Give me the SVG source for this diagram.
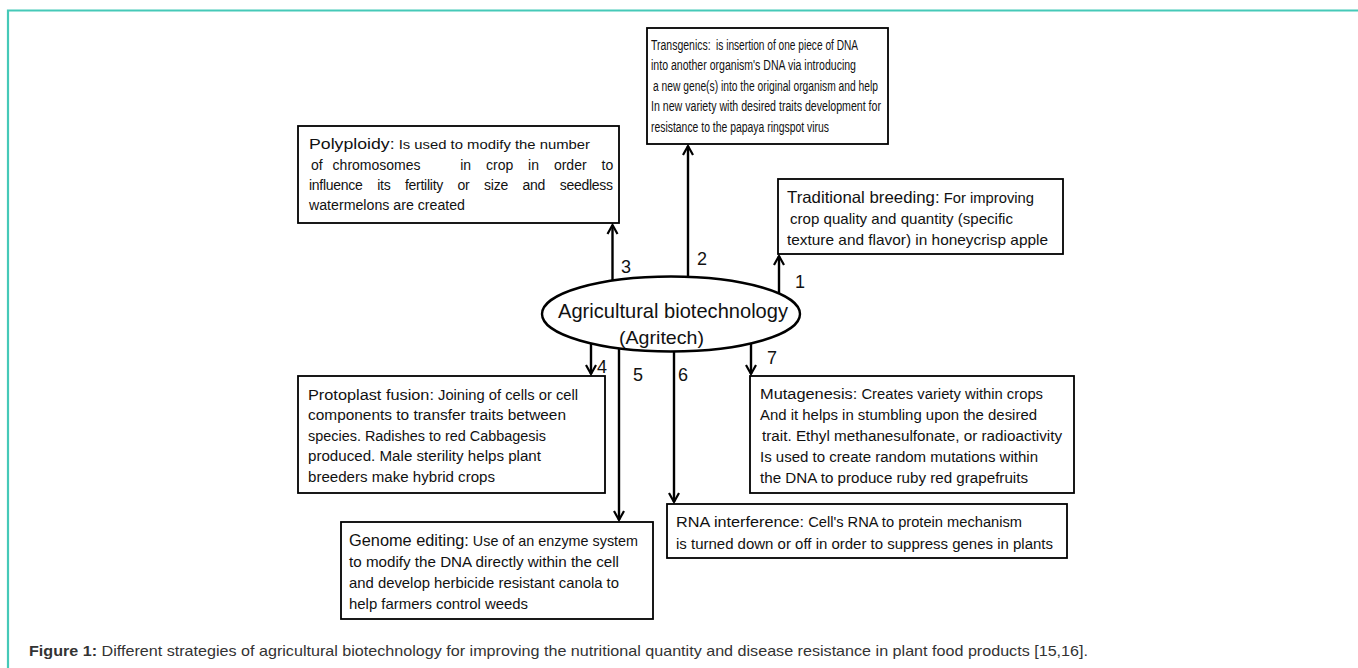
<svg xmlns="http://www.w3.org/2000/svg" width="1358" height="668" viewBox="0 0 1358 668">
<style>
.box{fill:#fff;stroke:#000;stroke-width:1.8}
.t{font-family:"Liberation Sans",Arial,sans-serif;fill:#111}
.s12{font-size:14px}.s14{font-size:14px}.h14{font-size:15px}.h15{font-size:15.5px}.h16{font-size:16.5px}
.num{font-family:"Liberation Sans",Arial,sans-serif;font-size:18px;fill:#111}
.con{stroke:#000;stroke-width:2.4;fill:none;marker-end:url(#ah)}
.cap{font-family:"Liberation Sans",Arial,sans-serif;font-size:14.5px;fill:#333}
</style>
<defs>
<marker id="ah" markerUnits="userSpaceOnUse" viewBox="-12 -7 14 14" refX="0" refY="0" markerWidth="14" markerHeight="14" orient="auto" overflow="visible">
<path d="M-9,-5 L0,0 L-9,5" fill="none" stroke="#000" stroke-width="2.2" stroke-linejoin="miter"/>
</marker>
</defs>
<rect x="0" y="0" width="1358" height="668" fill="#fff"/>
<path d="M8,668 L8,10.5 L1358,10.5" fill="none" stroke="#45C9B8" stroke-width="2.2"/>

<g id="connectors">
<line class="con" x1="779" y1="293" x2="779" y2="256"/>
<line class="con" x1="688" y1="277" x2="688" y2="146"/>
<line class="con" x1="612.5" y1="281" x2="612.5" y2="225"/>
<line class="con" x1="591" y1="343" x2="591" y2="374"/>
<line class="con" x1="619" y1="348.5" x2="619" y2="520"/>
<line class="con" x1="674" y1="351.5" x2="674" y2="502"/>
<line class="con" x1="751" y1="343.5" x2="751" y2="374"/>
<text class="num" x="795" y="288">1</text>
<text class="num" x="697" y="265">2</text>
<text class="num" x="621" y="273">3</text>
<text class="num" x="597" y="373">4</text>
<text class="num" x="633" y="380.5">5</text>
<text class="num" x="678" y="380.5">6</text>
<text class="num" x="767" y="364">7</text>
</g>

<g id="center">
<ellipse cx="671" cy="314" rx="129" ry="37.5" fill="#fff" stroke="#000" stroke-width="2.4"/>
<text class="t" x="558" y="318" font-size="21" textLength="230" lengthAdjust="spacingAndGlyphs">Agricultural biotechnology</text>
<text class="t" x="619" y="344" font-size="18.5" textLength="85" lengthAdjust="spacingAndGlyphs">(Agritech)</text>
</g>

<g id="transgenics">
<rect class="box" x="647" y="28" width="241" height="116"/>
<text class="t h14" transform="translate(651,50) scale(0.7,1)" x="0" y="0">Transgenics:</text>
<text class="t s12" transform="translate(716,50) scale(0.725,1)" x="0" y="0">is insertion of one piece of DNA</text>
<text class="t s12" x="651" y="70" textLength="205" lengthAdjust="spacingAndGlyphs">into another organism's DNA via introducing</text>
<text class="t s12" x="653" y="90.5" textLength="225" lengthAdjust="spacingAndGlyphs">a new gene(s) into the original organism and help</text>
<text class="t s12" x="651" y="111" textLength="230" lengthAdjust="spacingAndGlyphs">In new variety with desired traits development for</text>
<text class="t s12" x="651" y="131.5" textLength="178" lengthAdjust="spacingAndGlyphs">resistance to the papaya ringspot virus</text>
</g>

<g id="polyploidy">
<rect class="box" x="298" y="126" width="321" height="97"/>
<text class="t" x="309" y="149" textLength="281" lengthAdjust="spacingAndGlyphs"><tspan class="h15">Polyploidy:</tspan><tspan style="font-size:13px">  Is used to modify the number</tspan></text>
<text class="t s14" y="169.5"><tspan x="311">of</tspan><tspan x="332.6">chromosomes</tspan><tspan x="460.2">in</tspan><tspan x="486">crop</tspan><tspan x="528.1">in</tspan><tspan x="553.9">order</tspan><tspan x="601.5">to</tspan></text>
<text class="t s14" x="309" y="189.5" word-spacing="11" textLength="304" lengthAdjust="spacing">influence its fertility or size and seedless</text>
<text class="t s14" x="309" y="209.5" textLength="156" lengthAdjust="spacingAndGlyphs">watermelons are created</text>
</g>

<g id="traditional">
<rect class="box" x="778" y="179" width="285" height="75"/>
<text class="t" x="787" y="202.5" textLength="247" lengthAdjust="spacingAndGlyphs"><tspan class="h16">Traditional breeding:</tspan><tspan style="font-size:14.5px"> For improving</tspan></text>
<text class="t" x="790" y="223.5" font-size="14.5" textLength="223" lengthAdjust="spacingAndGlyphs">crop quality and quantity (specific</text>
<text class="t" x="787" y="244.5" font-size="14.5" textLength="261" lengthAdjust="spacingAndGlyphs">texture and flavor) in honeycrisp apple</text>
</g>

<g id="protoplast">
<rect class="box" x="298" y="376" width="307" height="117"/>
<text class="t" x="308" y="399.5" textLength="270" lengthAdjust="spacingAndGlyphs"><tspan class="h15">Protoplast fusion:</tspan><tspan class="s14"> Joining of cells or cell</tspan></text>
<text class="t s14" x="308" y="420" textLength="258" lengthAdjust="spacingAndGlyphs">components to transfer traits between</text>
<text class="t s14" x="308" y="440.5" textLength="238" lengthAdjust="spacingAndGlyphs">species. Radishes to red Cabbagesis</text>
<text class="t s14" x="308" y="461" textLength="233" lengthAdjust="spacingAndGlyphs">produced. Male sterility helps plant</text>
<text class="t s14" x="308" y="481.5" textLength="187" lengthAdjust="spacingAndGlyphs">breeders  make hybrid crops</text>
</g>

<g id="genome">
<rect class="box" x="341" y="522" width="312" height="97"/>
<text class="t" x="349" y="545.5" textLength="289" lengthAdjust="spacingAndGlyphs"><tspan class="h16">Genome editing:</tspan><tspan style="font-size:14.5px"> Use of an enzyme system</tspan></text>
<text class="t" x="349" y="566.5" font-size="14.5" textLength="270" lengthAdjust="spacingAndGlyphs">to modify the DNA directly within the cell</text>
<text class="t" x="349" y="587.5" font-size="14.5" textLength="270" lengthAdjust="spacingAndGlyphs">and develop herbicide resistant canola to</text>
<text class="t" x="349" y="608.5" font-size="14.5" textLength="179" lengthAdjust="spacingAndGlyphs">help farmers control weeds</text>
</g>

<g id="mutagenesis">
<rect class="box" x="750" y="376" width="324" height="117"/>
<text class="t" x="760" y="398.5" textLength="283" lengthAdjust="spacingAndGlyphs"><tspan class="h15">Mutagenesis:</tspan><tspan class="s14"> Creates variety within crops</tspan></text>
<text class="t s14" x="760" y="419.5" textLength="277" lengthAdjust="spacingAndGlyphs">And it helps in stumbling upon the desired</text>
<text class="t s14" x="762" y="440.5" textLength="300" lengthAdjust="spacingAndGlyphs">trait. Ethyl methanesulfonate, or radioactivity</text>
<text class="t s14" x="760" y="461.5" textLength="278" lengthAdjust="spacingAndGlyphs">Is used to create random mutations within</text>
<text class="t s14" x="760" y="482.5" textLength="268" lengthAdjust="spacingAndGlyphs">the DNA to produce ruby red grapefruits</text>
</g>

<g id="rnai">
<rect class="box" x="667" y="504" width="400" height="54"/>
<text class="t" x="676" y="527" textLength="346" lengthAdjust="spacingAndGlyphs"><tspan class="h15">RNA interference:</tspan><tspan class="s14"> Cell's RNA to protein mechanism</tspan></text>
<text class="t s14" x="676" y="548.5" textLength="377" lengthAdjust="spacingAndGlyphs">is turned down or off in order to suppress genes in plants</text>
</g>

<g id="caption">
<text class="cap" x="29" y="656" textLength="1059" lengthAdjust="spacingAndGlyphs"><tspan font-weight="bold">Figure 1:</tspan> Different strategies of agricultural biotechnology for improving the nutritional quantity and disease resistance in plant food products [15,16].</text>
</g>
</svg>
